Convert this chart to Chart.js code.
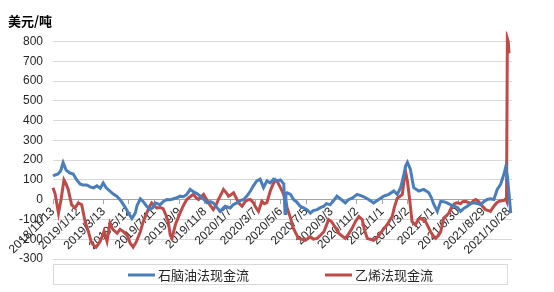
<!DOCTYPE html>
<html>
<head>
<meta charset="utf-8">
<script src="https://cdn.jsdelivr.net/npm/chart.js@4.4.1/dist/chart.umd.min.js"></script>
<style>
html,body{margin:0;padding:0;background:#fff;}
#wrap{width:554px;height:292px;position:relative;}
</style>
</head>
<body>
<div id="wrap"><canvas id="c" width="554" height="292"></canvas></div>
<script>
// Tick labels (every 60 days from 2018/11/13)
const tickLabels = ['2018/11/13','2019/1/12','2019/3/13','2019/5/12','2019/7/11','2019/9/9','2019/11/8','2020/1/7','2020/3/7','2020/5/6','2020/7/5','2020/9/3','2020/11/2','2021/1/1','2021/3/2','2021/5/1','2021/6/30','2021/8/29','2021/10/28'];
const seriesNames = ['石脑油法现金流','乙烯法现金流'];
const yTicks = [-300,-200,-100,0,100,200,300,400,500,600,700,800];

// Day offsets from 2018/11/13 and values (USD/ton)
const naphthaDays = [0,5,12,18,24,31,40,48,55,64,71,80,88,96,104,112,119,126,135,142,151,159,167,173,179,187,195,199,207,214,222,230,237,242,254,261,270,278,286,294,301,309,317,325,333,342,349,356,365,373,380,389,396,408,420,427,436,444,452,460,468,475,483,491,499,507,515,523,531,539,547,550,552,555,563,570,577,586,593,602,610,617,626,634,642,648,657,665,673,681,693,700,709,721,733,741,748,760,772,784,796,808,816,824,831,836,840,844,847,855,867,879,891,897,903,911,919,926,934,942,950,959,966,973,982,990,998,1006,1014,1021,1029,1037,1045,1053,1061,1069,1073,1077,1081,1085];
const naphthaValues = [120,125,130,145,188,150,135,130,104,80,75,75,65,60,70,58,85,60,44,30,18,0,-25,-45,-68,-95,-68,-30,5,-10,-33,-50,-40,-16,-25,-10,1,0,5,10,18,15,27,52,40,30,18,5,-16,-10,-16,-40,-59,-33,-42,-25,-16,-5,1,20,44,70,95,104,61,95,85,104,95,100,80,-70,30,35,27,1,-10,-33,-40,-50,-68,-55,-50,-40,-33,-20,-25,-5,18,5,-16,0,8,27,18,10,1,-16,1,18,27,44,27,61,120,172,189,170,155,61,44,52,35,10,-25,-59,-8,-10,-16,-25,-33,-40,-59,-45,-33,-20,-16,-20,-25,-10,1,5,1,52,78,130,165,120,27,-68];

const ethyleneDays = [0,5,13,19,26,31,36,44,52,60,68,76,84,90,96,102,109,116,121,128,135,142,152,159,166,176,183,190,197,207,214,222,230,234,240,246,254,261,268,273,278,282,290,301,309,317,325,333,339,345,351,357,363,369,375,380,387,392,399,404,411,416,422,428,434,440,448,456,463,468,475,479,487,495,501,507,515,522,527,532,539,544,551,555,563,570,577,582,591,598,605,610,617,626,634,642,648,653,660,665,672,677,686,693,700,709,717,725,733,738,745,752,760,769,776,783,792,798,804,809,816,821,828,832,836,840,843,847,851,859,866,871,876,883,890,895,902,907,914,919,926,933,938,946,952,958,966,971,978,985,990,997,1002,1009,1014,1021,1025,1033,1037,1045,1052,1057,1063,1069,1073,1075,1077,1079,1081];
const ethyleneValues = [60,30,-68,0,100,80,52,-25,-42,-16,-25,-110,-162,-210,-230,-240,-220,-190,-160,-210,-119,-150,-170,-150,-160,-180,-220,-240,-215,-162,-110,-68,-30,-16,-30,-42,-40,-45,-80,-110,-180,-196,-127,-68,-30,1,15,27,10,1,15,27,5,-16,-35,-50,-25,1,30,52,35,18,25,35,10,-16,-33,-8,0,1,-15,-33,-59,-8,-20,-15,44,80,100,90,61,40,1,-40,-93,-145,-175,-196,-200,-205,-195,-187,-200,-196,-180,-162,-130,-100,-110,-127,-150,-170,-185,-196,-175,-145,-110,-85,-100,-150,-196,-200,-205,-190,-170,-150,-127,-105,-85,-40,8,15,27,95,138,95,44,-30,-110,-127,-100,-93,-100,-110,-140,-162,-185,-196,-180,-162,-93,-80,-68,-33,-20,-16,-20,-10,-8,-15,-20,-5,1,-10,-25,-40,-50,-55,-59,-33,-15,-8,-5,-3,5,-5,815,800,740];

const toPoints = (xs, ys) => xs.map((x, i) => ({x: x, y: ys[i]}));

const FONT_LATIN = "'Liberation Sans', Arial, 'Noto Sans CJK SC', sans-serif";
const FONT_CJK = "'Noto Sans CJK SC', 'Liberation Sans', sans-serif";

const legendPlugin = {
  id: 'boxLegend',
  afterDraw(chart) {
    const ctx = chart.ctx;
    const area = chart.chartArea;
    ctx.save();
    ctx.strokeStyle = '#d9d9d9';
    ctx.lineWidth = 1;
    ctx.strokeRect(Math.round(area.left) + 0.5, 264.5, 454, 20);
    const starts = [128, 325];
    ctx.font = "13px " + FONT_CJK;
    ctx.textBaseline = 'middle';
    chart.data.datasets.forEach((ds, i) => {
      const x0 = starts[i];
      ctx.strokeStyle = ds.borderColor;
      ctx.lineWidth = 3;
      ctx.beginPath();
      ctx.moveTo(x0, 275);
      ctx.lineTo(x0 + 27, 275);
      ctx.stroke();
      ctx.fillStyle = '#262626';
      ctx.textAlign = 'left';
      ctx.fillText(ds.label, x0 + 30, 275);
    });
    ctx.restore();
  }
};

new Chart(document.getElementById('c'), {
  type: 'line',
  data: {
    datasets: [
      {label: seriesNames[0], data: toPoints(naphthaDays, naphthaValues), borderColor: '#4a7ebb', borderWidth: 3, pointRadius: 0, tension: 0, clip: 10},
      {label: seriesNames[1], data: toPoints(ethyleneDays, ethyleneValues), borderColor: '#be4b48', borderWidth: 3, pointRadius: 0, tension: 0, clip: 10}
    ]
  },
  options: {
    responsive: false,
    animation: false,
    events: [],
    layout: {padding: {left: 8, right: 42, top: 0, bottom: 33}},
    plugins: {
      legend: {display: false},
      tooltip: {enabled: false},
      title: {
        display: true, text: '美元/吨', align: 'start', color: '#000',
        font: {family: FONT_CJK, size: 13, weight: 'bold', lineHeight: 1.2},
        padding: {top: 13, bottom: 13}
      }
    },
    scales: {
      x: {
        type: 'linear',
        position: {y: 0},
        min: 0, max: 1088,
        afterBuildTicks: s => { s.ticks = tickLabels.map((_, i) => ({value: i * 60})); },
        ticks: {
          autoSkip: false, maxRotation: 45, minRotation: 45, padding: 1,
          color: '#262626', font: {family: FONT_LATIN, size: 12},
          callback: (v) => tickLabels[Math.round(v / 60)]
        },
        grid: {drawOnChartArea: false, drawTicks: true, tickLength: 4, color: '#a6a6a6'},
        border: {display: true, color: '#a6a6a6', width: 1}
      },
      y: {
        min: -300, max: 800,
        afterBuildTicks: s => { s.ticks = yTicks.map(v => ({value: v})); },
        afterFit: s => { s.width = 45; },
        ticks: {padding: 10, color: '#262626', font: {family: FONT_LATIN, size: 12}},
        grid: {color: '#d9d9d9', drawTicks: false, lineWidth: 1},
        border: {display: false}
      }
    }
  },
  plugins: [legendPlugin]
});
</script>
</body>
</html>
